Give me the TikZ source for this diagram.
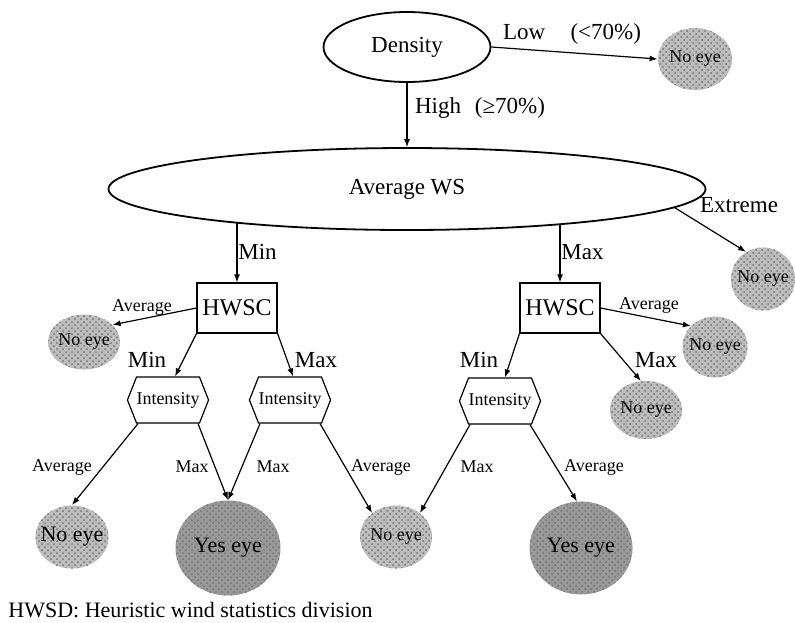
\documentclass[tikz,border=0pt]{standalone}
\usepackage{fontspec}
\setmainfont{Liberation Serif}
\usetikzlibrary{shapes.geometric,shapes.symbols,arrows.meta,patterns}

\definecolor{noeyegray}{gray}{0.74}
\definecolor{yeseyegray}{gray}{0.6}
\definecolor{speckgray}{gray}{0.45}

\tikzset{
  attr/.style={ellipse, draw, line width=0.9pt, inner sep=0pt},
  hwsc/.style={rectangle, draw, line width=0.6pt, minimum width=40pt, minimum height=25pt,
    inner sep=0pt, font=\fontsize{12}{14}\selectfont},
  intensity/.style={signal, signal to=west and east, signal pointer angle=137, draw,
    line width=0.6pt, minimum width=40pt, minimum height=23pt, inner sep=0pt,
    font=\fontsize{9}{10}\selectfont},
  noeye/.style={ellipse, fill=noeyegray, inner xsep=-6pt, inner ysep=0pt,
    preaction={fill=noeyegray}, pattern=crosshatch dots, pattern color=speckgray,
    font=\fontsize{9}{10}\selectfont},
  yeseye/.style={ellipse, inner xsep=-6pt, inner ysep=0pt,
    preaction={fill=yeseyegray}, pattern=crosshatch dots, pattern color=speckgray,
    font=\fontsize{11}{13}\selectfont},
  branch/.style={-{Latex[length=4pt,width=3pt]}, line width=0.6pt},
  lbl/.style={inner sep=0pt, font=\fontsize{11.5}{13}\selectfont},
  smalllbl/.style={inner sep=0pt, font=\fontsize{9}{10}\selectfont}
}

\begin{document}
\begin{tikzpicture}[x=0.5pt,y=-0.5pt]
\useasboundingbox (0,0) rectangle (795,622);

% splitting attributes
\node[attr, minimum width=83.5pt, minimum height=35pt, font=\fontsize{11.5}{13}\selectfont] (density) at (407,47) {Density};
\node[attr, minimum width=298.5pt, minimum height=41pt, font=\fontsize{11.5}{13}\selectfont] (avgws) at (407,189) {Average WS};
\node[hwsc] (hwscL) at (237,308) {HWSC};
\node[hwsc] (hwscR) at (560,308) {HWSC};
\node[intensity] (intL) at (168,400) {Intensity};
\node[intensity] (intM) at (290,400) {Intensity};
\node[intensity] (intR) at (500,401) {Intensity};

% leaves
\node[noeye, minimum width=37pt, minimum height=31pt] (noeyeLow) at (695,59) {No eye};
\node[noeye, minimum width=32pt, minimum height=31.5pt] (noeyeExt) at (763,279) {No eye};
\node[noeye, minimum width=36pt, minimum height=27.5pt] (noeyeA) at (84,342) {No eye};
\node[noeye, minimum width=32.5pt, minimum height=30.5pt] (noeyeB) at (715,347) {No eye};
\node[noeye, minimum width=36pt, minimum height=29pt] (noeyeC) at (646,410) {No eye};
\node[noeye, minimum width=36.5pt, minimum height=31.5pt, font=\fontsize{11}{13}\selectfont] (noeyeD) at (72,537) {No eye};
\node[noeye, minimum width=36pt, minimum height=31.5pt] (noeyeE) at (396,537) {No eye};
\node[yeseye, minimum width=52.5pt, minimum height=47.5pt] (yesL) at (228,548) {Yes eye};
\node[yeseye, minimum width=51.5pt, minimum height=46.5pt] (yesR) at (581,548) {Yes eye};

% branches
\draw[branch] (density.east) -- (noeyeLow.west);
\draw[branch] (density.south) -- (avgws.north);
\draw[branch] (avgws.191.3 -| hwscL.north) -- (hwscL.north);
\draw[branch] (avgws.347.1 -| hwscR.north) -- (hwscR.north);
\draw[branch] (avgws.356.7) -- (noeyeExt.122);
\draw[branch] (hwscL.west) -- (noeyeA.31);
\draw[branch] (hwscL.south west) -- ([xshift=3.5pt]intL.north);
\draw[branch] (hwscL.south east) -- ([xshift=1.5pt]intM.north);
\draw[branch] (hwscR.east) -- (noeyeB.139);
\draw[branch] (hwscR.south west) -- ([xshift=2.5pt]intR.north);
\draw[branch] (hwscR.south east) -- (noeyeC.100);
\draw[branch] ([xshift=-15pt]intL.south) -- (noeyeD.north);
\draw[branch] ([xshift=15pt]intL.south) -- (yesL.north);
\draw[branch] ([xshift=-15pt]intM.south) -- (yesL.north);
\draw[branch] ([xshift=15pt]intM.south) -- (noeyeE.135);
\draw[branch] ([xshift=-15pt]intR.south) -- (noeyeE.45);
\draw[branch] ([xshift=15pt]intR.south) -- (yesR.95);

% branch labels
\node[lbl] (lowlbl) at (572,34) {Low\hspace{1.1em}(<70\%)};
\node[lbl] (highlbl) at (480,108) {High\hspace{0.6em}(≥70\%)};
\node[lbl, anchor=west] (minlbl) at (238,252) {Min};
\node[lbl, anchor=west] (maxlbl) at (561,252) {Max};
\node[lbl] (extlbl) at (739,205) {Extreme};
\node[smalllbl] (avglblL) at (142,307) {Average};
\node[smalllbl] (avglblR) at (649,305) {Average};
\node[lbl] (minlblL) at (147,360) {Min};
\node[lbl] (maxlblL) at (316,360) {Max};
\node[lbl] (minlblR) at (479,360) {Min};
\node[lbl] (maxlblR) at (656,360) {Max};
\node[smalllbl] (avglbl1) at (62,467) {Average};
\node[smalllbl] (maxlbl1) at (192,467) {Max};
\node[smalllbl] (maxlbl2) at (273,467) {Max};
\node[smalllbl] (avglbl2) at (381,467) {Average};
\node[smalllbl] (maxlbl3) at (477,467) {Max};
\node[smalllbl] (avglbl3) at (594,467) {Average};

\node[anchor=west, inner sep=0pt, font=\fontsize{11}{13}\selectfont] (note) at (8,610) {HWSD: Heuristic wind statistics division};
\end{tikzpicture}
\end{document}
